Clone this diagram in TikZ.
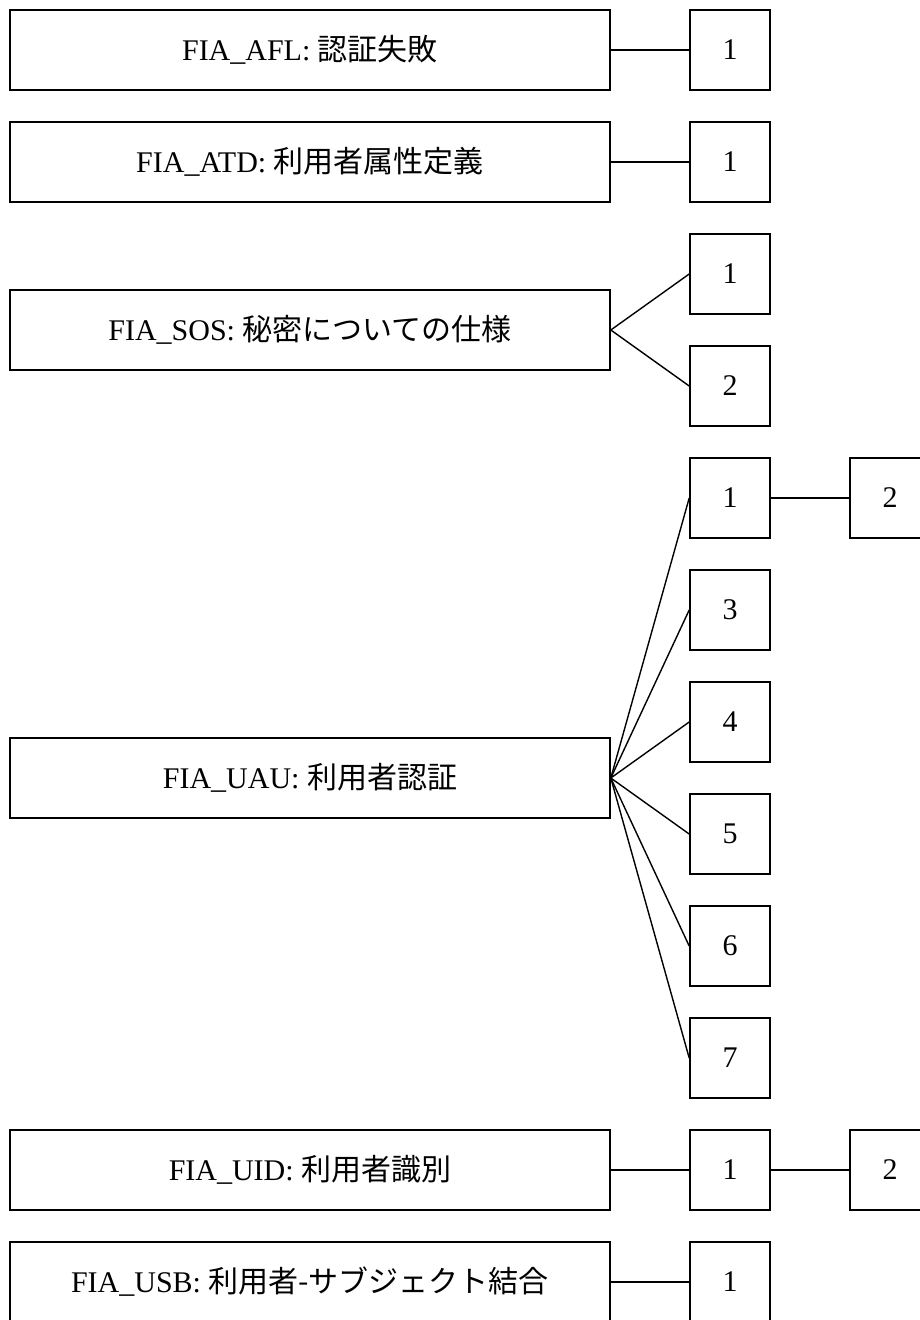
\documentclass[tikz,border=0pt]{standalone}
\usepackage{fontspec}
\setmainfont{Liberation Serif}
\newfontfamily\jp{Noto Sans CJK JP}
\begin{document}
\begin{tikzpicture}[x=1pt,y=-1pt,
  every node/.style={font=\fontsize{30}{36}\selectfont},
  bigbox/.style={draw,line width=1.6pt,rectangle,minimum width=600pt,minimum height=80pt,inner sep=0pt},
  numbox/.style={draw,line width=1.6pt,rectangle,minimum width=80pt,minimum height=80pt,inner sep=0pt},
  link/.style={line width=1.4pt}]
\useasboundingbox (0,0) rectangle (919,1320);
% main boxes
\node[bigbox] (afl) at (310,50) {FIA\_AFL: {\jp 認証失敗}};
\node[bigbox] (atd) at (310,162) {FIA\_ATD: {\jp 利用者属性定義}};
\node[bigbox] (sos) at (310,330) {FIA\_SOS: {\jp 秘密についての仕様}};
\node[bigbox] (uau) at (310,778) {FIA\_UAU: {\jp 利用者認証}};
\node[bigbox] (uid) at (310,1170) {FIA\_UID: {\jp 利用者識別}};
\node[bigbox] (usb) at (310,1282) {FIA\_USB: {\jp 利用者-サブジェクト結合}};
% component boxes
\node[numbox] (afl1) at (730,50) {1};
\node[numbox] (atd1) at (730,162) {1};
\node[numbox] (sos1) at (730,274) {1};
\node[numbox] (sos2) at (730,386) {2};
\node[numbox] (uau1) at (730,498) {1};
\node[numbox] (uau3) at (730,610) {3};
\node[numbox] (uau4) at (730,722) {4};
\node[numbox] (uau5) at (730,834) {5};
\node[numbox] (uau6) at (730,946) {6};
\node[numbox] (uau7) at (730,1058) {7};
\node[numbox] (uid1) at (730,1170) {1};
\node[numbox] (usb1) at (730,1282) {1};
\node[numbox] (uau2) at (890,498) {2};
\node[numbox] (uid2) at (890,1170) {2};
% connectors
\draw[link] (afl.east) -- (afl1.west);
\draw[link] (atd.east) -- (atd1.west);
\draw[link] (sos.east) -- (sos1.west);
\draw[link] (sos.east) -- (sos2.west);
\foreach \n in {uau1,uau3,uau4,uau5,uau6,uau7}
  \draw[link] (uau.east) -- (\n.west);
\draw[link] (uau1.east) -- (uau2.west);
\draw[link] (uid.east) -- (uid1.west);
\draw[link] (uid1.east) -- (uid2.west);
\draw[link] (usb.east) -- (usb1.west);
\end{tikzpicture}
\end{document}
